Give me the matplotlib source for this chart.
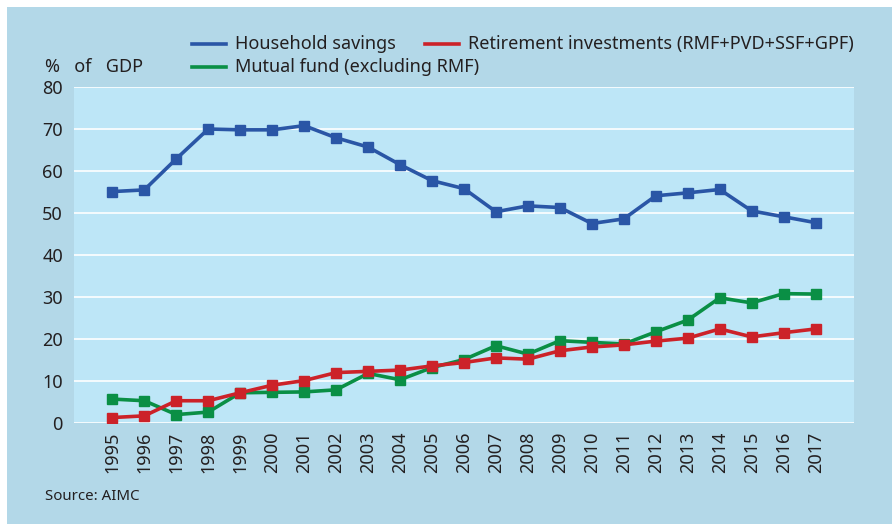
import matplotlib.pyplot as plt
from matplotlib.patches import Rectangle
from matplotlib.lines import Line2D

plt.rcParams['font.family'] = ['Noto Sans', 'DejaVu Sans']

# data
years = [str(y) for y in range(1995, 2018)]
household = [55.1, 55.5, 62.9, 70.0, 69.8, 69.8, 70.8, 67.9, 65.7, 61.5, 57.7, 55.8,
             50.3, 51.7, 51.3, 47.5, 48.6, 54.1, 54.8, 55.6, 50.5, 49.1, 47.7]
retirement = [1.3, 1.7, 5.3, 5.3, 7.2, 9.0, 10.1, 12.0, 12.3, 12.6, 13.6, 14.4,
              15.5, 15.2, 17.2, 18.1, 18.6, 19.5, 20.2, 22.4, 20.5, 21.5, 22.4]
mutual = [5.7, 5.3, 2.0, 2.6, 7.2, 7.3, 7.4, 7.9, 11.8, 10.3, 13.2, 15.1,
          18.4, 16.4, 19.6, 19.2, 18.8, 21.7, 24.5, 29.8, 28.6, 30.8, 30.7]

outer_bg = '#b3d8e8'
plot_bg = '#bde6f7'
txt = '#231f20'
c_house = '#2a56a6'
c_ret = '#cc2229'
c_mut = '#0a8f45'

W, H = 892, 524
fig = plt.figure(figsize=(W / 100, H / 100), dpi=100)
fig.patch.set_facecolor('white')
fig.patches.append(Rectangle((7 / W, 0), 1, 1 - 7 / H, transform=fig.transFigure,
                             facecolor=outer_bg, edgecolor='none', zorder=-10))

ax = fig.add_axes([74 / W, 1 - 423 / H, (854 - 74) / W, (423 - 87) / H])
ax.set_facecolor(plot_bg)

x = list(range(len(years)))
ax.plot(x, household, color=c_house, lw=2.6, marker='s', ms=7, zorder=3)
ax.plot(x, mutual, color=c_mut, lw=2.6, marker='s', ms=7, zorder=3)
ax.plot(x, retirement, color=c_ret, lw=2.6, marker='s', ms=7, zorder=4)

ax.set_ylim(0, 80)
ax.set_xlim(-1.2, len(years) - 1 + 1.2)
ax.set_yticks(range(0, 81, 10))
ax.set_xticks(x)
ax.set_xticklabels(years, rotation=90, fontsize=13, color=txt)
ax.tick_params(axis='y', labelsize=13, colors=txt, length=0, pad=8)
ax.tick_params(axis='x', length=0, pad=6)
ax.grid(axis='y', color='white', lw=1.2, zorder=1)
ax.set_axisbelow(True)
for s in ax.spines.values():
    s.set_visible(False)

fig.text(45 / W, 1 - 67 / H, '%   of   GDP', fontsize=13, color=txt, va='center')
fig.text(45 / W, 1 - 497 / H, 'Source: AIMC', fontsize=10.8, color=txt, va='center')

# legend, placed by hand
legend_items = [(192, 44, c_house, 'Household savings'),
                (425, 44, c_ret, 'Retirement investments (RMF+PVD+SSF+GPF)'),
                (192, 67, c_mut, 'Mutual fund (excluding RMF)')]
for lx, ly, col, lab in legend_items:
    fig.add_artist(Line2D([lx / W, (lx + 34) / W], [1 - ly / H, 1 - ly / H],
                          color=col, lw=2.6, transform=fig.transFigure))
    fig.text((lx + 43) / W, 1 - ly / H, lab, fontsize=13, color=txt, va='center')

fig.savefig('out.png', dpi=100, facecolor=fig.get_facecolor())
